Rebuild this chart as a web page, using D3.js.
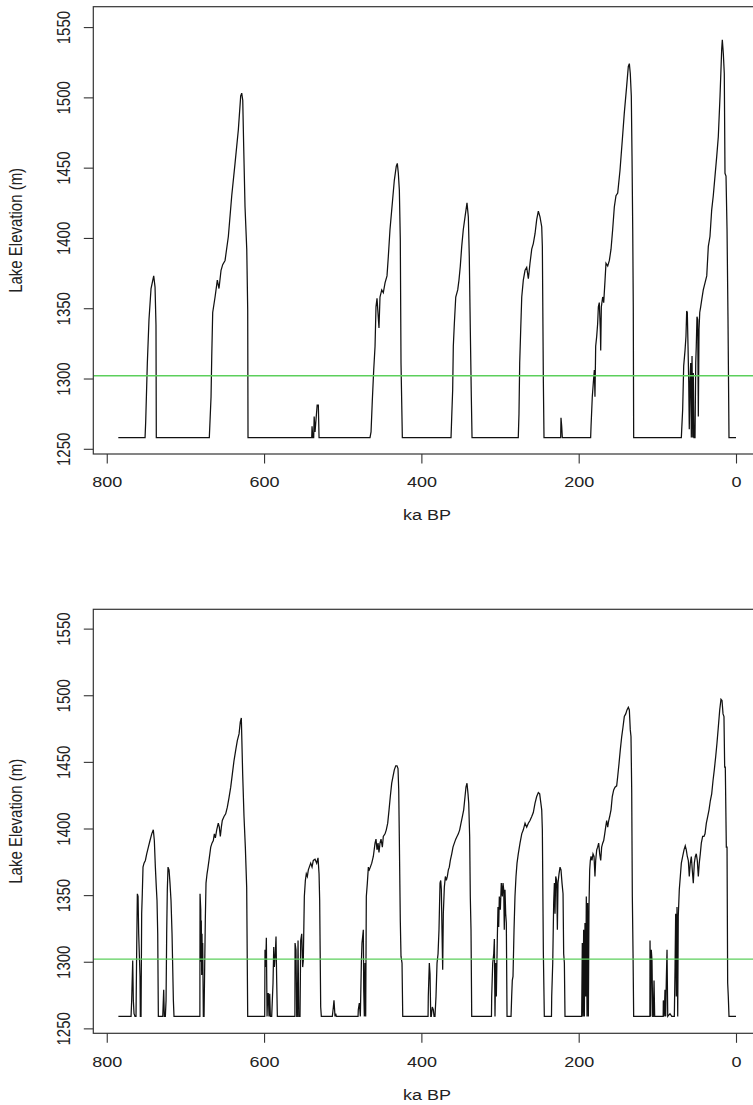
<!DOCTYPE html>
<html>
<head>
<meta charset="utf-8">
<script src="https://cdnjs.cloudflare.com/ajax/libs/d3/7.8.5/d3.min.js"></script>
<style>
body{margin:0;background:#fff;}
svg{display:block;font-family:"Liberation Sans",Arial,sans-serif;}
</style>
</head>
<body>
<script>
// ka BP / lake elevation (m)
var kaTicks = [800, 600, 400, 200, 0];
var elevTicks = [1250, 1300, 1350, 1400, 1450, 1500, 1550];
var spillElev = 1302;

var topSeries = [
[785.3,1258],[751.3,1258],[750.5,1269],[748.4,1311],[746.3,1342],[743.7,1364],[740.3,1373],[738.6,1365],[737.4,1338],[737,1258],
[669.6,1258],[667.4,1287],[666.5,1316],[665.3,1347],[662.3,1358],[659.4,1370],[657.3,1364],[654.7,1377],[652.6,1381],[649.6,1384],[645.4,1401],[641.1,1430],[636.9,1453],[632.7,1477],[629.7,1501],[628.4,1503],[627.1,1498],[625.9,1465],[624.2,1422],[622,1392],[620.8,1349],[620.4,1258],
[539.4,1258],[539,1266],[538,1258],[536.9,1258],[536.3,1273],[535.2,1262],[532.5,1281],[531,1281],[530.1,1258],
[465.3,1258],[464,1262],[462.4,1284],[460.6,1306],[458.9,1323],[457.7,1351],[456.4,1357],[453.9,1336],[452.6,1358],[450.4,1363],[448.4,1361],[446.2,1368],[443.7,1373],[442,1387],[439.9,1406],[436.9,1425],[434.4,1441],[431.9,1451],[430.6,1453],[429.3,1446],[428,1434],[426.8,1399],[425.9,1311],[424.2,1258],
[362.3,1258],[361.4,1273],[360.2,1292],[359.4,1323],[358.1,1339],[356.3,1358],[353.8,1363],[352.2,1370],[350.5,1380],[348.7,1394],[346.7,1406],[344.5,1415],[342,1425],[340.3,1415],[339.1,1387],[337.8,1335],[336.5,1287],[335.6,1258],
[276.8,1258],[275.9,1275],[275,1311],[273.7,1335],[272.4,1358],[270.4,1370],[268.2,1377],[266.1,1379],[264,1371],[261.9,1382],[259.7,1392],[257.7,1396],[255.5,1403],[253.4,1413],[251.3,1419],[249.2,1415],[247,1408],[246.2,1394],[244.9,1297],[244.1,1258],
[222.9,1258],[222.5,1272],[221.6,1266],[220.8,1258],
[184.8,1258],[184.3,1266],[182.7,1287],[181.4,1297],[180.1,1306],[179.3,1287],[178.4,1323],[177.1,1330],[175.9,1339],[175,1351],[173.8,1354],[172.5,1335],[172,1320],[171.2,1351],[169.5,1358],[168.2,1354],[166.5,1370],[165.3,1382],[163.1,1380],[161,1384],[158.9,1392],[156.8,1406],[154.7,1422],[152.6,1430],[150.4,1432],[147.5,1448],[144.5,1470],[142,1489],[139,1508],[136.9,1522],[135.6,1524],[134.4,1517],[133.1,1501],[132.2,1458],[131.3,1406],[130.6,1351],[130.1,1258],
[69.5,1258],[69,1264],[67.8,1278],[66.5,1309],[64.8,1320],[63.6,1330],[62.7,1348],[61.9,1347],[61,1323],[60.1,1297],[59.4,1264],[58.5,1299],[57.6,1311],[56.8,1258],[55.9,1316],[55,1258],[54.3,1304],[53.4,1258],[52.1,1258],[51.2,1311],[50.5,1323],[49.6,1344],[48.7,1342],[47.9,1273],[47,1335],[46.1,1347],[44.9,1351],[43.6,1356],[41.6,1363],[39.4,1368],[37.2,1373],[35.2,1394],[33.1,1401],[30.9,1420],[28.9,1430],[26.7,1444],[24.5,1458],[22.5,1472],[20.3,1501],[18.2,1534],[17.4,1541],[16.1,1531],[14.9,1517],[14,1446],[12.7,1444],[11.4,1406],[10.2,1344],[8.9,1258],[0,1258]
];

var bottomSeries = [
[785.2,1259],[769.1,1259],[768.3,1271],[767,1301],[766.2,1271],[765.3,1261],[764.1,1259],[762.8,1259],[761.9,1311],[761.1,1351],[760.2,1349],[759.4,1321],[758.6,1306],[757.7,1289],[757.3,1259],[756.4,1259],[755.6,1336],[754.8,1351],[753.9,1371],[752.6,1374],[750.9,1376],[749.2,1381],[747.1,1386],[745,1391],[742.8,1396],[740.8,1399],[739.5,1391],[738.2,1371],[737,1356],[736.1,1346],[735.2,1321],[734.4,1259],
[728.8,1259],[727.6,1279],[726.8,1259],[725.5,1259],[724.6,1271],[723.8,1321],[723,1354],[722.1,1371],[720.8,1369],[719.6,1359],[718.3,1346],[717,1321],[715.3,1271],[714.5,1259],
[681.6,1259],[681.4,1351],[680.5,1339],[680.1,1300],[679.8,1331],[679.3,1290],[678.9,1321],[678.5,1295],[678,1314],[677.2,1259],[676.3,1259],[675.5,1296],[674.7,1331],[673.8,1359],[672.5,1366],[671.2,1371],[669.6,1378],[667.8,1386],[666.2,1389],[664.5,1391],[663.2,1396],[661.9,1393],[660.2,1399],[658.2,1404],[656.9,1401],[655.6,1394],[654.3,1401],[653.1,1406],[650.9,1409],[648.8,1411],[646.7,1416],[644.6,1423],[642.4,1431],[640.3,1441],[638.2,1451],[636,1459],[634,1466],[631.8,1471],[630.2,1480],[628.9,1483],[627.2,1441],[625.5,1409],[623.8,1386],[622.1,1356],[620.8,1259],
[599.2,1259],[598.8,1309],[597.9,1296],[597.1,1318],[596.2,1259],[595.4,1276],[594.6,1276],[593.7,1259],[592.8,1276],[592,1259],[590.3,1259],[589.5,1271],[588.6,1284],[587.7,1311],[586.9,1296],[585.7,1306],[584.8,1319],[583.9,1284],[583.1,1259],
[560.8,1259],[560.6,1314],[559.4,1309],[558.5,1259],[557.7,1259],[556.8,1316],[555.9,1259],[554.3,1259],[553.4,1316],[552.1,1321],[550.9,1296],[550.1,1301],[548.8,1349],[547.5,1361],[546.3,1366],[545,1364],[543.7,1369],[542.5,1371],[540.7,1374],[539,1371],[537.4,1376],[535.2,1377],[533.1,1374],[531.4,1378],[530.1,1366],[529.3,1346],[528,1266],[527.2,1259],
[513.2,1259],[511.9,1266],[511.1,1271],[509.8,1259],[508.9,1261],[508.1,1259],
[480.5,1259],[480.2,1264],[478.9,1269],[477.6,1259],[476.3,1299],[475.5,1314],[474.6,1319],[473.8,1324],[473.3,1279],[472.5,1259],[471.7,1299],[470.8,1259],[470,1349],[468.7,1359],[467.4,1371],[466.2,1369],[464.9,1371],[463.1,1374],[461.1,1379],[458.9,1389],[457.7,1392],[456.4,1384],[455.1,1389],[453.9,1382],[452.6,1389],[451.3,1392],[449.6,1386],[448.4,1394],[446.2,1396],[444.6,1399],[442.8,1404],[441.1,1414],[439.5,1424],[437.7,1434],[436.1,1439],[434.4,1444],[432.6,1447],[431,1447],[429.7,1445],[428.8,1429],[428,1391],[426.8,1331],[425.9,1304],[424.6,1299],[423.7,1259],
[391.5,1259],[391.2,1274],[389.9,1299],[389,1291],[388.1,1259],[387.4,1259],[386.1,1266],[384.8,1264],[383.9,1259],[382.7,1259],[381.4,1274],[380.1,1299],[378.8,1306],[377.6,1324],[376.3,1359],[375.4,1361],[374.6,1354],[373.8,1324],[372.9,1294],[372.1,1336],[370.8,1356],[369.5,1364],[368.3,1361],[367,1364],[365.7,1369],[364.5,1371],[363.2,1376],[361.4,1381],[359.8,1386],[358.1,1389],[356.3,1392],[354.7,1394],[353,1396],[351.3,1399],[349.6,1404],[347.9,1409],[346.2,1414],[344.5,1424],[343.3,1431],[342,1434],[340.7,1426],[339.8,1419],[338.6,1394],[337.8,1349],[336.9,1324],[336,1259],
[310.9,1259],[310.6,1274],[309.3,1299],[308,1306],[307.2,1317],[306.4,1259],[305.5,1299],[304.7,1274],[303.5,1316],[302.6,1341],[301.7,1326],[300.9,1349],[299.6,1339],[298.4,1359],[297.1,1349],[296.2,1359],[295.3,1354],[294.6,1324],[293.7,1354],[292.8,1336],[292,1329],[291.1,1259],
[286,1259],[285.2,1274],[284.4,1286],[283.5,1289],[282.2,1324],[281,1349],[279.7,1364],[278.4,1374],[276.8,1381],[274.6,1389],[272.4,1396],[270.4,1399],[268.2,1404],[266.1,1401],[264,1404],[261.9,1406],[259.7,1409],[257.7,1412],[255.5,1419],[253.4,1424],[251.3,1427],[249.6,1426],[248.3,1420],[247,1414],[246.2,1399],[244.9,1306],[243.7,1259],
[234.6,1259],[234.3,1274],[233,1299],[231.8,1344],[230.9,1359],[230.1,1336],[229.2,1364],[228,1361],[227.1,1324],[226.3,1359],[225,1366],[223.7,1371],[222.5,1369],[221.2,1359],[219.9,1351],[219.1,1306],[218.2,1299],[217.4,1259],
[196.2,1259],[195.4,1314],[194.5,1259],[193.7,1324],[192.8,1259],[192,1329],[191.1,1274],[190.3,1349],[189.4,1259],[188.6,1344],[187.7,1259],[186.9,1341],[186,1369],[185.2,1376],[184.3,1379],[183.1,1376],[181.8,1381],[180.5,1379],[179.3,1364],[178.4,1376],[177.1,1384],[175.9,1386],[174.6,1389],[173.3,1381],[172,1376],[170.8,1386],[169.5,1389],[168.2,1391],[166.9,1396],[165.7,1401],[164.4,1406],[163.1,1401],[161.8,1406],[160.6,1409],[158.9,1414],[157.3,1424],[155.5,1429],[153.8,1431],[151.7,1432],[150.4,1439],[148.7,1449],[147.1,1459],[145.3,1469],[143.7,1476],[142,1484],[140.2,1486],[138.6,1489],[136.9,1491],[135.6,1489],[134.4,1474],[133.5,1469],[132.6,1429],[131.8,1349],[130.9,1306],[130.1,1259],
[109.5,1259],[109.3,1316],[108.4,1259],[107.7,1309],[106.8,1301],[105.9,1259],[105.1,1259],[104.2,1286],[103.4,1259],
[92.6,1259],[92.4,1271],[91.2,1259],[90.3,1279],[89.4,1259],[88.6,1286],[87.7,1309],[86.8,1259],[83.9,1261],[81.7,1259],
[78.4,1259],[77.5,1296],[76.7,1336],[75.9,1274],[75,1341],[74.1,1259],[73.4,1334],[72.1,1354],[70.8,1364],[69.5,1374],[67.8,1379],[66.1,1384],[64.5,1387],[63.2,1384],[61.9,1379],[60.6,1376],[59.4,1364],[58.1,1374],[56.8,1379],[55.6,1369],[54.3,1359],[53,1374],[51.7,1379],[50.5,1381],[49.2,1376],[47.9,1364],[46.7,1374],[45.4,1381],[44.1,1389],[42.4,1394],[40.7,1394],[39.4,1396],[37.7,1404],[36,1409],[34.3,1414],[32.6,1421],[30.9,1426],[29.2,1436],[27.6,1444],[25.8,1454],[24.2,1464],[22.5,1476],[20.7,1489],[19.1,1497],[17.8,1496],[16.5,1486],[15.3,1484],[14.4,1446],[13.6,1446],[12.3,1386],[11.4,1386],[10.6,1284],[9.8,1274],[8.9,1259],[0,1259]
];

var W = 753, H = 1105;
var svg = d3.select('body').append('svg').attr('width',W).attr('height',H);

var elevPanel = function(gId, series, top, bottom){
    this.gId = gId;
    this.series = series;
    this.top = top;
    this.bottom = bottom;
    this.left = 93.3;
    this.right = 760.7;
    this.init();
}
elevPanel.prototype.init = function(){
    this.x = d3.scaleLinear().domain([817.1, -31.4]).range([this.left, this.right]);
    this.y = d3.scaleLinear().domain([1246.3, 1564.5]).range([this.bottom, this.top]);
    this.g = svg.append('g').attr('id', this.gId);
}
elevPanel.prototype.drawAxes = function(){
    var that = this;
    var xAxis = d3.axisBottom(this.x).tickValues(kaTicks).tickSize(9.5).tickFormat(d3.format('d'));
    var xg = this.g.append('g').attr('transform','translate(0,'+this.bottom+')').call(xAxis);
    xg.select('.domain').remove();
    xg.selectAll('line').attr('stroke','#333').attr('stroke-width',1.1);
    xg.selectAll('text').attr('y',0).attr('dy','0.35em').attr('fill','#222').attr('font-size','15px')
        .attr('transform','translate(0,28) scale(1.2,1)');

    var yAxis = d3.axisLeft(this.y).tickValues(elevTicks).tickSize(9.5).tickFormat(d3.format('d'));
    var yg = this.g.append('g').attr('transform','translate('+this.left+',0)').call(yAxis);
    yg.select('.domain').remove();
    yg.selectAll('line').attr('stroke','#333').attr('stroke-width',1.1);
    yg.selectAll('text').attr('x',0).attr('dy','0.35em').attr('text-anchor','middle').attr('fill','#222').attr('font-size','15px')
        .attr('transform','translate(-30,0) scale(1.2,1) rotate(-90)');

    this.g.append('text').text('ka BP').attr('text-anchor','middle').attr('dy','0.35em').attr('fill','#222').attr('font-size','15px')
        .attr('transform','translate('+((this.left+this.right)/2)+','+(this.bottom+61)+') scale(1.2,1)');
    this.g.append('text').text('Lake Elevation (m)').attr('text-anchor','middle').attr('dy','0.35em').attr('fill','#222').attr('font-size','15px')
        .attr('transform','translate(16,'+((this.top+this.bottom)/2)+') scale(1.2,1) rotate(-90)');
}
elevPanel.prototype.drawSeries = function(){
    var that = this;
    var line = d3.line().x(function(d){ return that.x(d[0]); }).y(function(d){ return that.y(d[1]); });
    this.g.append('path').datum(this.series).attr('d',line).attr('fill','none')
        .attr('stroke','#111').attr('stroke-width',1.25).attr('stroke-linejoin','miter');
}
elevPanel.prototype.drawSpill = function(){
    this.g.append('line').attr('x1',this.left).attr('x2',this.right)
        .attr('y1',this.y(spillElev)).attr('y2',this.y(spillElev))
        .attr('stroke','#5ccf5c').attr('stroke-width',1.4);
}
elevPanel.prototype.drawBox = function(){
    this.g.append('rect').attr('x',this.left).attr('y',this.top)
        .attr('width',this.right-this.left).attr('height',this.bottom-this.top)
        .attr('fill','none').attr('stroke','#333').attr('stroke-width',1.2);
}
elevPanel.prototype.display = function(){
    this.drawSeries();
    this.drawSpill();
    this.drawBox();
    this.drawAxes();
}

var topPanel = new elevPanel('top-panel', topSeries, 6.7, 454);
topPanel.display();
var bottomPanel = new elevPanel('bottom-panel', bottomSeries, 609.3, 1033.3);
bottomPanel.display();
</script>
</body>
</html>
